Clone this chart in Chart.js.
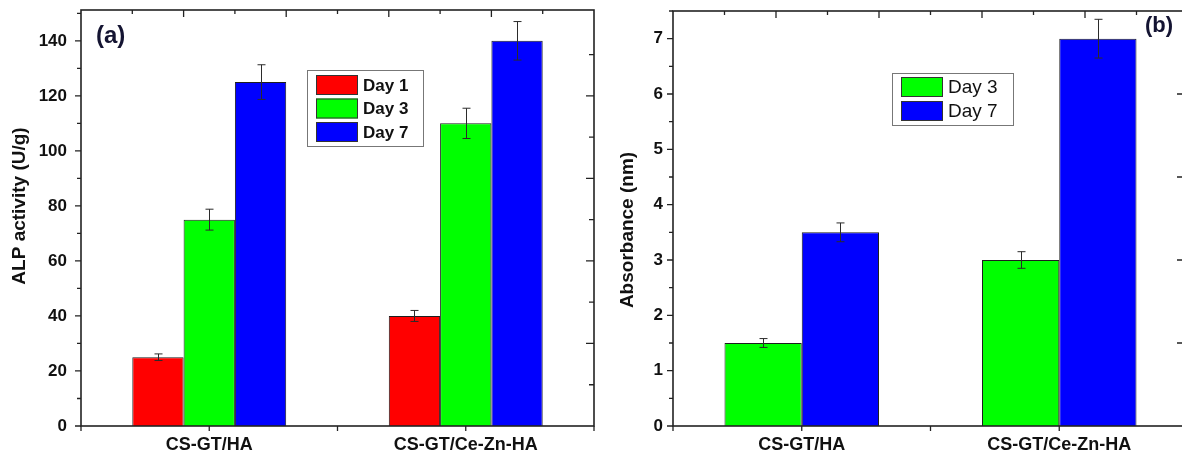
<!DOCTYPE html>
<html><head><meta charset="utf-8">
<script src="https://cdn.jsdelivr.net/npm/chart.js@4.4.1/dist/chart.umd.min.js"></script>
<style>
html,body{margin:0;padding:0;background:#fff;overflow:hidden;width:1182px;height:458px;position:relative;}
canvas{position:absolute;top:0;}
</style></head><body>
<canvas id="ca" width="600" height="458" style="left:0;width:600px;height:458px"></canvas>
<canvas id="cb" width="600" height="458" style="left:600px;width:600px;height:458px"></canvas>
<script>
// ---------- data ----------
const categories = ['CS-GT/HA', 'CS-GT/Ce-Zn-HA'];

// panel (a): ALP activity
const labelsA = ['Day 1', 'Day 3', 'Day 7'];
const alpDay1 = [25, 40];
const alpDay3 = [75, 110];
const alpDay7 = [125, 140];
const alpErrDay1 = [1.2, 2.0];
const alpErrDay3 = [3.8, 5.5];
const alpErrDay7 = [6.3, 7.0];
const alpTicks = [0, 20, 40, 60, 80, 100, 120, 140];
const alpMinor = [10, 30, 50, 70, 90, 110, 130, 150];
const alpRightMajor = [30, 60, 90, 120];
const alpRightMinor = [15, 45, 75, 105, 135];

// panel (b): Absorbance
const labelsB = ['Day 3', 'Day 7'];
const absDay3 = [1.5, 3.0];
const absDay7 = [3.5, 7.0];
const absErrDay3 = [0.08, 0.15];
const absErrDay7 = [0.17, 0.35];
const absTicks = [0, 1, 2, 3, 4, 5, 6, 7];
const absMinor = [0.5, 1.5, 2.5, 3.5, 4.5, 5.5, 6.5, 7.5];
const absRightMajor = [3, 6];
const absRightMinor = [1.5, 4.5];

// category-axis tick values (index units)
const bottomTickVals = [-0.5, 0, 0.5, 1, 1.5];
const topMajorVals = [-0.1, 0.3, 0.7, 1.1];
const topMinorVals = [-0.3, 0.1, 0.5, 0.9, 1.3];

const RED = '#ff0000', GREEN = '#00ff00', BLUE = '#0000ff';
const FONT = '"Liberation Sans", Arial, sans-serif';

function decor(cfg) {
  return {
    id: 'decor' + cfg.key,
    afterDatasetsDraw(chart) {
      const ctx = chart.ctx, ca = chart.chartArea;
      const xs = chart.scales.x, ys = chart.scales.y;
      ctx.save();
      // error bars
      ctx.strokeStyle = '#2b2b2b'; ctx.lineWidth = 1;
      chart.data.datasets.forEach((ds, di) => {
        const meta = chart.getDatasetMeta(di);
        meta.data.forEach((bar, i) => {
          const v = ds.data[i], e = ds.errors[i];
          const x = Math.round(bar.x) + 0.5;
          const yt = ys.getPixelForValue(v + e), yb = ys.getPixelForValue(v - e);
          ctx.beginPath();
          ctx.moveTo(x, yt); ctx.lineTo(x, yb);
          ctx.moveTo(x - 4, yt); ctx.lineTo(x + 4, yt);
          ctx.moveTo(x - 4, yb); ctx.lineTo(x + 4, yb);
          ctx.stroke();
        });
      });
      // frame
      ctx.strokeStyle = '#222'; ctx.lineWidth = 1.6;
      ctx.strokeRect(ca.left, ca.top, ca.right - ca.left, ca.bottom - ca.top);
      ctx.lineWidth = 1.3;
      ctx.beginPath();
      // left ticks (outward)
      cfg.yMajor.forEach(v => { const y = ys.getPixelForValue(v); ctx.moveTo(ca.left, y); ctx.lineTo(ca.left - 6, y); });
      cfg.yMinor.forEach(v => { const y = ys.getPixelForValue(v); ctx.moveTo(ca.left, y); ctx.lineTo(ca.left - 4, y); });
      // right ticks (inward)
      cfg.rMajor.forEach(v => { const y = ys.getPixelForValue(v); ctx.moveTo(ca.right, y); ctx.lineTo(ca.right - cfg.rMajLen, y); });
      cfg.rMinor.forEach(v => { const y = ys.getPixelForValue(v); ctx.moveTo(ca.right, y); ctx.lineTo(ca.right - cfg.rMinLen, y); });
      // bottom ticks (outward)
      bottomTickVals.forEach(v => { const x = xs.getPixelForValue(v); ctx.moveTo(x, ca.bottom); ctx.lineTo(x, ca.bottom + 5); });
      // top ticks (inward)
      topMajorVals.forEach(v => { const x = xs.getPixelForValue(v); ctx.moveTo(x, ca.top); ctx.lineTo(x, ca.top + 7); });
      topMinorVals.forEach(v => { const x = xs.getPixelForValue(v); ctx.moveTo(x, ca.top); ctx.lineTo(x, ca.top + 4); });
      ctx.stroke();

      // y-axis title
      ctx.fillStyle = '#111';
      ctx.font = 'bold 19px ' + FONT;
      ctx.textAlign = 'center'; ctx.textBaseline = 'middle';
      ctx.save();
      ctx.translate(cfg.titleX, cfg.titleY);
      ctx.rotate(-Math.PI / 2);
      ctx.fillText(cfg.title, 0, 0);
      ctx.restore();

      // panel letter
      ctx.fillStyle = '#141432';
      ctx.font = 'bold ' + cfg.tagSize + 'px ' + FONT;
      ctx.textAlign = 'left'; ctx.textBaseline = 'alphabetic';
      ctx.fillText(cfg.tag, cfg.tagX, cfg.tagY);

      // legend
      const L = cfg.legend;
      ctx.strokeStyle = '#777'; ctx.lineWidth = 1;
      ctx.strokeRect(L.x + 0.5, L.y + 0.5, L.w, L.h);
      ctx.font = L.font;
      ctx.textBaseline = 'middle';
      chart.data.datasets.forEach((ds, i) => {
        const sy = L.y + L.sy0 + i * L.step;
        ctx.fillStyle = ds.backgroundColor;
        ctx.fillRect(L.x + 9, sy, 42, L.sh);
        ctx.strokeStyle = '#333';
        ctx.strokeRect(L.x + 9.5, sy + 0.5, 41, L.sh - 1);
        ctx.fillStyle = '#111';
        ctx.fillText(ds.label, L.x + L.tx, sy + L.sh / 2 + 1);
      });
      ctx.restore();
    }
  };
}

function makeChart(id, datasets, yMax, yTicks, padding, yWidth, tickPad, cfg) {
  return new Chart(document.getElementById(id), {
    type: 'bar',
    data: { labels: categories, datasets },
    options: {
      responsive: false,
      animation: false,
      devicePixelRatio: 1,
      layout: { padding },
      plugins: { legend: { display: false }, tooltip: { enabled: false } },
      datasets: { bar: { categoryPercentage: 0.6, barPercentage: 1.0, borderWidth: 1, borderColor: '#1e1e1e' } },
      scales: {
        x: {
          grid: { display: false, drawTicks: false },
          border: { display: false },
          ticks: { color: '#111', font: { family: FONT, size: 18, weight: 'bold' }, padding: 8, maxRotation: 0 },
          afterFit(s) { s.height = 32; s.paddingLeft = 0; s.paddingRight = 0; }
        },
        y: {
          min: 0, max: yMax,
          grid: { display: false, drawTicks: false },
          border: { display: false },
          ticks: { color: '#111', font: { family: FONT, size: 17, weight: 'bold' }, padding: tickPad, includeBounds: false },
          afterBuildTicks(s) { s.ticks = yTicks.map(v => ({ value: v })); },
          afterFit(s) { s.width = yWidth; s.paddingTop = 0; s.paddingBottom = 0; }
        }
      }
    },
    plugins: [decor(cfg)]
  });
}

makeChart('ca', [
  { label: labelsA[0], data: alpDay1, errors: alpErrDay1, backgroundColor: RED },
  { label: labelsA[1], data: alpDay3, errors: alpErrDay3, backgroundColor: GREEN },
  { label: labelsA[2], data: alpDay7, errors: alpErrDay7, backgroundColor: BLUE }
], 151.2, alpTicks, { top: 10, right: 6, left: 0, bottom: 0 }, 81, 14, {
  key: 'a', yMajor: alpTicks, yMinor: alpMinor, rMajor: alpRightMajor, rMinor: alpRightMinor,
  rMajLen: 8, rMinLen: 5,
  title: 'ALP activity (U/g)', titleX: 20, titleY: 206,
  tag: '(a)', tagSize: 24, tagX: 96, tagY: 43,
  legend: { x: 307, y: 70, w: 116, h: 76, sy0: 5, step: 23.5, sh: 20, tx: 56, font: 'bold 17px ' + FONT }
});

makeChart('cb', [
  { label: labelsB[0], data: absDay3, errors: absErrDay3, backgroundColor: GREEN },
  { label: labelsB[1], data: absDay7, errors: absErrDay7, backgroundColor: BLUE }
], 7.5, absTicks, { top: 11, right: 12, left: 0, bottom: 0 }, 73, 10, {
  key: 'b', yMajor: absTicks, yMinor: absMinor, rMajor: absRightMajor, rMinor: absRightMinor,
  rMajLen: 11, rMinLen: 11,
  title: 'Absorbance (nm)', titleX: 28, titleY: 230,
  tag: '(b)', tagSize: 22, tagX: 545, tagY: 32,
  legend: { x: 292, y: 73, w: 121, h: 52, sy0: 4, step: 24, sh: 20, tx: 56, font: '19px ' + FONT }
});
</script>
</body></html>
